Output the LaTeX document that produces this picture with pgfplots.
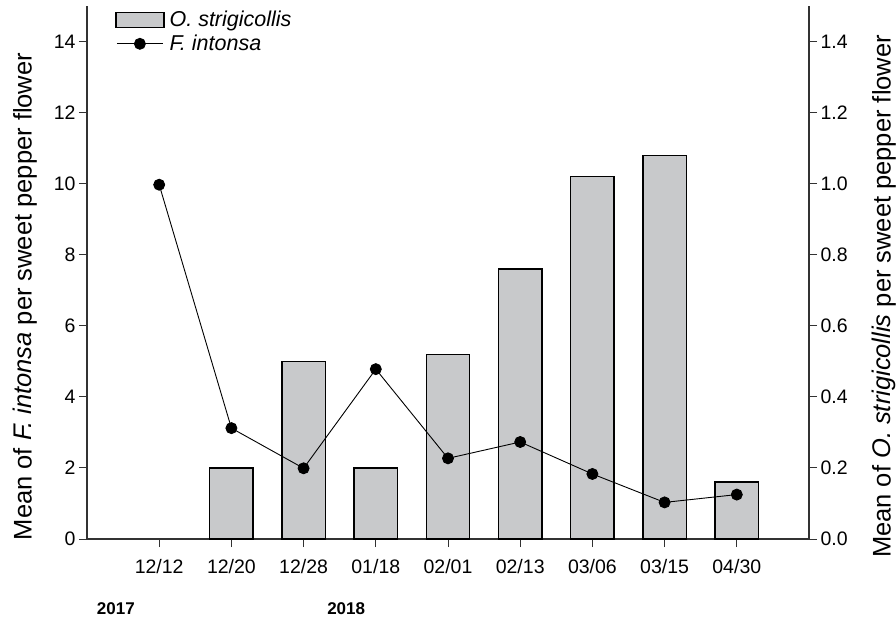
\documentclass[border=0pt]{standalone}
\usepackage{fontspec}
\setmainfont{Liberation Sans}
\usepackage{pgfplots}
\pgfplotsset{compat=1.18}
\definecolor{barfill}{RGB}{200,201,203}
\definecolor{axgray}{RGB}{50,50,50}
\begin{document}
\begin{tikzpicture}
\pgfplotsset{
  common/.style={
    width=722bp, height=533bp, scale only axis,
    xmin=-1, xmax=9,
    xtick={0,...,8},
    tick align=outside,
    major tick length=8bp,
    tick style={color=axgray, line width=1bp},
    axis line style={axgray, line width=1.1bp},
    tick label style={font=\fontsize{19.5bp}{21bp}\selectfont},
    label style={font=\fontsize{25.5bp}{27bp}\selectfont, inner sep=0pt},
    /pgf/number format/assume math mode=true,
    clip=false,
  }
}
\begin{axis}[common, name=bars,
  axis x line*=bottom, axis y line*=right,
  ymin=0, ymax=1.5, ytick={0,0.2,0.4,0.6,0.8,1.0,1.2,1.4},
  yticklabel style={/pgf/number format/.cd, fixed, fixed zerofill, precision=1},
  xticklabels={12/12,12/20,12/28,01/18,02/01,02/13,03/06,03/15,04/30},
  xticklabel style={yshift=-8.5bp},
  ylabel={Mean of \textit{O. strigicollis} per sweet pepper flower},
  ylabel style={at={(axis description cs:1,0.5)}, anchor=north, xshift=-24bp, yshift=-63bp},
]
\addplot[ybar, bar width=0.6, fill=barfill, draw=black, line width=1.4bp]
  coordinates {(1,0.20) (2,0.50) (3,0.20) (4,0.52) (5,0.76) (6,1.02) (7,1.08) (8,0.16)};
\node[font=\fontsize{17bp}{19bp}\selectfont\bfseries] at (axis cs:-0.6,0) [yshift=-70bp] {2017};
\node[font=\fontsize{17bp}{19bp}\selectfont\bfseries] at (axis cs:2.59,0) [yshift=-70bp] {2018};
\end{axis}
\begin{axis}[common,
  axis x line=none, axis y line*=left,
  ymin=0, ymax=15, ytick={0,2,4,6,8,10,12,14},
  ylabel={Mean of \textit{F. intonsa} per sweet pepper flower},
  ylabel style={at={(axis description cs:0,0.5)}, anchor=south, xshift=-24bp, yshift=50bp},
  legend style={at={(axis description cs:0,1)}, anchor=north west, xshift=28bp, yshift=-3bp,
    draw=none, fill=none, inner sep=0pt, row sep=3bp,
    nodes={inner sep=2bp},
    font=\fontsize{21.5bp}{23bp}\selectfont},
  legend cell align=left,
]
\addlegendimage{legend image code/.code={\draw[fill=barfill, draw=black, line width=1.4bp] (0bp,-7.5bp) rectangle (48bp,7.5bp);}}
\addlegendentry{\hspace{3bp}\textit{O. strigicollis}}
\addplot[black, line width=0.9bp, mark=*, mark size=5.5bp,
  legend image code/.code={\draw[black, line width=0.9bp] (1bp,0bp) -- (47bp,0bp); \fill[black] (24bp,0bp) circle (5.5bp);}]
  coordinates {(0,9.97) (1,3.12) (2,1.99) (3,4.78) (4,2.27) (5,2.73) (6,1.83) (7,1.03) (8,1.25)};
\addlegendentry{\hspace{3bp}\textit{F. intonsa}}
\end{axis}
\pgfresetboundingbox
\path (bars.south west) ++(-87bp,-80bp) rectangle ++(896bp,619bp);
\end{tikzpicture}
\end{document}
